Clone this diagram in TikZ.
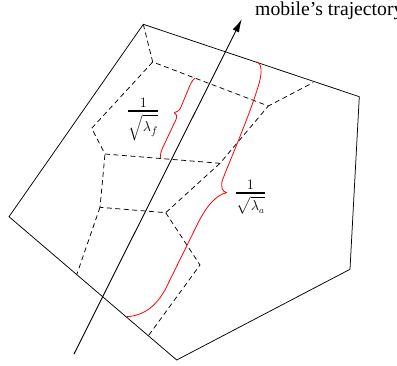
\documentclass[tikz,border=0pt]{standalone}
\usepackage{amsmath}
\usepackage{fontspec}
\setmainfont{Liberation Serif}
\usetikzlibrary{arrows.meta,calc}
\begin{document}
\begin{tikzpicture}[x=1pt,y=-1pt,
  cell/.style={line width=0.75pt},
  dashedge/.style={line width=0.75pt, dash pattern=on 5pt off 3.5pt},
  redbrace/.style={red, line width=0.8pt, line join=round},
  traj/.style={line width=0.9pt, -{Latex[length=13pt,width=7pt]}},
  lbl/.style={inner sep=0pt, anchor=base}]
\useasboundingbox (0,0) rectangle (397,366);
% pentagon
\coordinate (P1) at (143.3,24.3);
\coordinate (P2) at (359.3,96.7);
\coordinate (P3) at (350,269.3);
\coordinate (P4) at (176.7,360);
\coordinate (P5) at (9,216.7);
\draw[cell] (P1) -- (P2) -- (P3) -- (P4) -- (P5) -- cycle;
% dashed vertices
\coordinate (A) at (152.7,62);
\coordinate (B) at (268.3,106);
\coordinate (C) at (313.3,82.5);
\coordinate (D) at (91.7,128.3);
\coordinate (E) at (105,154);
\coordinate (F) at (220,163.3);
\coordinate (G) at (165.7,212.7);
\coordinate (H) at (100,207.3);
\coordinate (I) at ($(P5)!0.404!(P4)$);
\coordinate (J) at (200,265);
\coordinate (K) at ($(P5)!0.831!(P4)$);
\draw[dashedge] (P1) -- (A) -- (B) -- (C);
\draw[dashedge] (A) -- (D) -- (E) -- (F) -- (B);
\draw[dashedge] (F) -- (G) -- (H) -- (E);
\draw[dashedge] (H) -- (I);
\draw[dashedge] (G) -- (J) -- (K);
% trajectory
\coordinate (T0) at (74,354);
\coordinate (T1) at (241.7,19.3);
\draw[traj] (T0) -- (T1);
\node[inner sep=0pt, anchor=base west, font=\fontsize{19.7}{24}\selectfont] (tlabel) at (255,15.5) {mobile's trajectory};
% small brace
\coordinate (s1) at (195,78.3);
\coordinate (s2) at (174.3,112.7);
\coordinate (s3) at (160.3,158.3);
\draw[redbrace] (s1) .. controls (192,80) and (190,85) .. (188,90)
  -- (181,107) .. controls (179.5,110.5) and (177.5,112) .. (s2)
  .. controls (177,113.5) and (177.3,116.5) .. (175.8,120)
  -- (163.5,146) .. controls (161,151) and (160.3,154) .. (s3);
% large brace
\coordinate (b1) at (256.7,61.7);
\coordinate (b2) at (226.7,192.7);
\coordinate (b3) at (126.7,316.7);
\draw[redbrace] (b1) .. controls (261,63) and (262.5,70) .. (259.5,82)
  .. controls (250,115) and (230,160) .. (222.5,180)
  .. controls (220.5,187) and (222,191.5) .. (b2)
  .. controls (217,194.5) and (207,205) .. (198,223)
  -- (165,290) .. controls (157,304) and (146,315.5) .. (b3);
% labels
\node[lbl, font=\fontsize{15.5}{19}\selectfont] (lf) at (143.3,114.3)
  {$\genfrac{}{}{2.2pt}{1}{\displaystyle 1}{\displaystyle\sqrt{\lambda_f}}$};
\node[lbl, font=\fontsize{13.5}{16}\selectfont] (la) at (250.5,196.8)
  {$\genfrac{}{}{2.2pt}{1}{\displaystyle 1}{\displaystyle\sqrt{\lambda_a}}$};
\end{tikzpicture}
\end{document}
